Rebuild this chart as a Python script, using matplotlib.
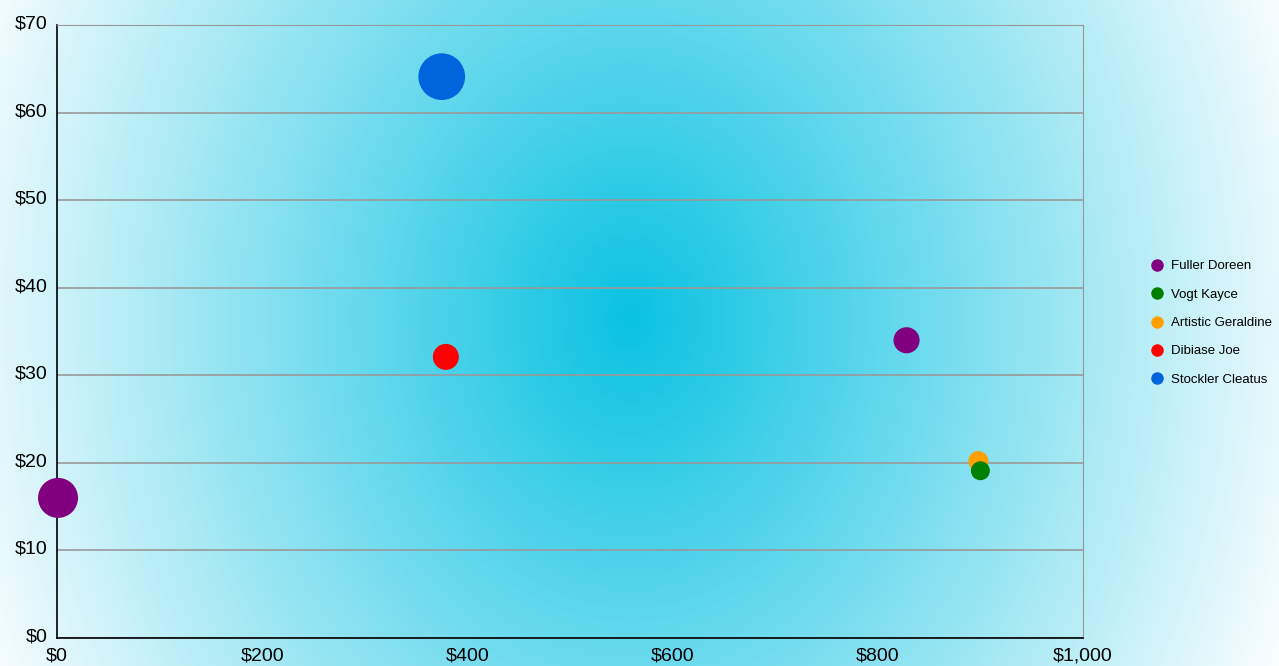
import matplotlib
matplotlib.use("Agg")
import matplotlib.pyplot as plt
import matplotlib.transforms as mtrans
import numpy as np

# data
names = ["Fuller Doreen", "Stockler Cleatus", "Dibiase Joe", "Fuller Doreen",
         "Artistic Geraldine", "Vogt Kayce"]
x_vals = [1, 375, 379, 828, 898, 900]
y_vals = [16.0, 64.1, 32.1, 34.0, 20.2, 19.1]
bubble_vals = [400, 545, 169, 170, 100, 90]

legend_names = ["Fuller Doreen", "Vogt Kayce", "Artistic Geraldine",
                "Dibiase Joe", "Stockler Cleatus"]
colors = {"Fuller Doreen": "#800080", "Vogt Kayce": "#008000",
          "Artistic Geraldine": "#FFA000", "Dibiase Joe": "#FF0000",
          "Stockler Cleatus": "#0064DC"}

y_ticks = [0, 10, 20, 30, 40, 50, 60, 70]
x_ticks = [0, 200, 400, 600, 800, 1000]

plt.rcParams['font.family'] = ['Liberation Sans', 'DejaVu Sans']

W, H = 1279, 666
fig = plt.figure(figsize=(W / 100, H / 100), dpi=100)

# radial gradient background
bg = fig.add_axes([0, 0, 1, 1], zorder=-1)
yy, xx = np.mgrid[0:H, 0:W]
d = np.sqrt(((xx - 630) / 720.0) ** 2 + ((yy - 318) / 880.0) ** 2)
t = np.clip(d, 0, 1)[..., None]
center = np.array([10, 194, 226]) / 255.0
img = center * (1 - t) + np.ones(3) * t
bg.imshow(img, aspect="auto", extent=[0, 1, 0, 1], origin="upper")
bg.axis("off")

ax = fig.add_axes([57 / W, 28 / H, 1026 / W, 613 / H])
ax.set_facecolor("none")

# bubble radius in px -> scatter size in pt^2
radii = np.sqrt(np.array(bubble_vals))
sizes = (2 * radii * 0.72) ** 2
for xv, yv, s, n in zip(x_vals, y_vals, sizes, names):
    ax.scatter(xv, yv, s=s, color=colors[n], edgecolors="none", zorder=3,
               clip_on=False)

ax.set_xlim(0, 1000)
ax.set_ylim(0, 70)
ax.set_yticks(y_ticks)
ax.set_yticklabels([f"${v}" for v in y_ticks])
ax.set_xticks(x_ticks)
ax.set_xticklabels([f"${v:,}" for v in x_ticks])
ax.tick_params(length=0, labelsize=14)
ax.tick_params(axis="y", pad=7)
ax.tick_params(axis="x", pad=7)
up = mtrans.ScaledTranslation(0, 3 / 100, fig.dpi_scale_trans)
for lab in ax.get_yticklabels():
    lab.set_transform(lab.get_transform() + up)
ax.yaxis.grid(True, color="#999999", linewidth=1.2)
ax.set_axisbelow(True)
for side in ["top", "right"]:
    ax.spines[side].set_color("#999999")
for side in ["left", "bottom"]:
    ax.spines[side].set_color("black")
    ax.spines[side].set_linewidth(1.2)

handles = [plt.Line2D([], [], marker="o", linestyle="none", markersize=9,
                      markerfacecolor=colors[n], markeredgecolor="none")
           for n in legend_names]
fig.legend(handles, legend_names, loc="center left",
           bbox_to_anchor=(1137 / W, 1 - 323 / H), frameon=False,
           fontsize=9.5, handletextpad=0.5, labelspacing=1.22,
           handlelength=1.2)

fig.savefig("out.png", dpi=100)
